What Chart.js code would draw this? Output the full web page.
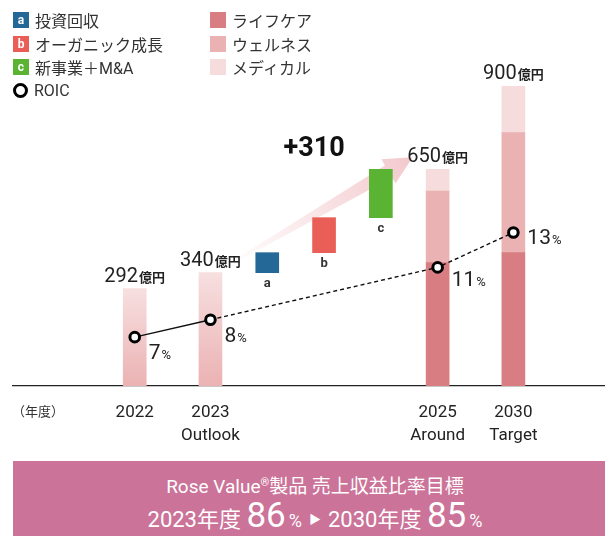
<!DOCTYPE html>
<html lang="ja">
<head>
<meta charset="utf-8">
<script src="https://cdn.jsdelivr.net/npm/chart.js@4/dist/chart.umd.min.js"></script>
<style>
  body { margin: 0; width: 605px; height: 536px; background: #fff; position: relative; overflow: hidden;
         font-family: Roboto, "Noto Sans CJK JP", sans-serif; color: #222; }
  #chart { position: absolute; left: 0; top: 0; }
  .lg { position: absolute; height: 16px; display: flex; align-items: center; font-size: 16px; color: #333;
        font-family: Roboto, "Noto Sans CJK JP", sans-serif; white-space: nowrap; }
  .lg .sw { width: 16px; height: 16px; margin-right: 6px; color: #fff; font-weight: 700; font-size: 12px;
            display: flex; align-items: center; justify-content: center; line-height: 1; }
  .lg .ring { width: 9px; height: 9px; border: 3.5px solid #000; border-radius: 50%; margin-right: 6px; box-sizing: content-box; }
  #banner { position: absolute; left: 13px; top: 461px; width: 592px; height: 75px; background: #cb7398;
            color: #fff; text-align: center; font-family: Roboto, "Noto Sans CJK JP", sans-serif; }
  #banner .l1 { position: absolute; left: 12px; right: 0; top: 9px; font-size: 19px; line-height: 26px; }
  #banner .l1 sup { font-size: 11px; vertical-align: 7px; }
  #banner .l2 { position: absolute; left: 12px; right: 0; top: 36px; font-size: 22px; line-height: 38px; }
  #banner .big { font-size: 35px; }
  #banner .pc { font-size: 18px; margin-left: 3px; }
  #banner .tri { font-size: 12px; vertical-align: 3px; margin: 0 7px; }
</style>
</head>
<body>
<canvas id="chart" width="605" height="461"></canvas>
<div id="legend"></div>
<div id="banner"></div>
<script>
// 売上収益（億円）と ROIC
const years = [['2022'], ['2023', 'Outlook'], ['2025', 'Around'], ['2030', 'Target']];
const salesTotal = [292, 340, 650, 900];
const segNames = ['ライフケア', 'ウェルネス', 'メディカル'];
const lifeCare = [null, null, 370, 400];
const wellness = [null, null, 215, 360];
const medical = [null, null, 65, 140];
const stepKeys = ['a', 'b', 'c'];
const stepNames = ['投資回収', 'オーガニック成長', '新事業＋M&A'];
const stepValues = [60, 105, 145];
const roic = [7, 8, 11, 13];
const shareYears = ['2023', '2030'];
const shareValues = [86, 85];

// layout
const yearSlot = [0, 4, 16, 20];
const stepSlot = [7, 10, 13];
const stepColors = ['#236896', '#ea5e58', '#5ab333'];
const segColors = ['#d87e83', '#eab2b3', '#f6dcdd'];
const FONT = 'Roboto, "Noto Sans CJK JP", sans-serif';
const JP = '"Noto Sans CJK JP", sans-serif';

// legend
const legend = document.getElementById('legend');
function addItem(x, row, swatch, text) {
  const d = document.createElement('div');
  d.className = 'lg';
  d.style.left = x + 'px';
  d.style.top = (12 + row * 23.5) + 'px';
  d.appendChild(swatch);
  const t = document.createElement('span');
  t.textContent = text;
  d.appendChild(t);
  legend.appendChild(d);
}
stepKeys.forEach((k, i) => {
  const s = document.createElement('span');
  s.className = 'sw';
  s.style.background = stepColors[i];
  s.textContent = k;
  addItem(13, i, s, stepNames[i]);
});
const ring = document.createElement('span');
ring.className = 'ring';
addItem(13, 3, ring, 'ROIC');
segNames.forEach((n, i) => {
  const s = document.createElement('span');
  s.className = 'sw';
  s.style.background = segColors[i];
  addItem(210, i, s, n);
});

// banner
document.getElementById('banner').innerHTML =
  '<div class="l1">Rose Value<sup>®</sup>製品 売上収益比率目標</div>' +
  '<div class="l2">' + shareYears[0] + '年度 <span class="big">' + shareValues[0] + '</span><span class="pc">%</span>' +
  '<span class="tri">▶</span>' + shareYears[1] + '年度 <span class="big">' + shareValues[1] + '</span><span class="pc">%</span></div>';

// datasets
const pts = (vals, fn) => vals.map((v, i) => v == null ? null : { x: yearSlot[i], y: fn(i) }).filter(Boolean);

const plainBars = salesTotal.map((v, i) => (lifeCare[i] == null ? { x: yearSlot[i], y: v } : null)).filter(Boolean);
const lcBars = pts(lifeCare, i => [0, lifeCare[i]]);
const wnBars = pts(wellness, i => [lifeCare[i], lifeCare[i] + wellness[i]]);
const mdBars = pts(medical, i => [lifeCare[i] + wellness[i], lifeCare[i] + wellness[i] + medical[i]]);

let run = salesTotal[1];
const stepBars = stepValues.map((v, i) => {
  const b = { x: stepSlot[i], y: [run, run + v] };
  run += v;
  return b;
});

const barBase = { type: 'bar', yAxisID: 'y', grouped: false, barThickness: 23, order: 1, borderWidth: 0 };

function fadeBar(c) {
  const chart = c.chart;
  if (!chart.chartArea || !c.raw) return '#f1c8c9';
  const ys = chart.scales.y;
  const g = chart.ctx.createLinearGradient(0, ys.getPixelForValue(c.raw.y), 0, ys.getPixelForValue(0));
  g.addColorStop(0, '#f7dfe0');
  g.addColorStop(1, '#ebb2b3');
  return g;
}

function text(ctx, s, x, y, font, color, align) {
  ctx.font = font;
  ctx.fillStyle = color;
  ctx.textAlign = align || 'left';
  ctx.textBaseline = 'alphabetic';
  ctx.fillText(s, x, y);
}

// number + small unit, centred or left aligned
function pair(ctx, big, bigFont, small, smallFont, x, base, center) {
  ctx.font = bigFont;
  const w1 = ctx.measureText(big).width;
  ctx.font = smallFont;
  const w2 = ctx.measureText(small).width;
  const left = center ? x - (w1 + w2 + 1) / 2 : x;
  text(ctx, big, left, base, bigFont, '#222');
  text(ctx, small, left + w1 + 1, base, smallFont, '#222');
}

const arrowPlugin = {
  id: 'arrow',
  beforeDatasetsDraw(chart) {
    const { ctx, scales: { x, y } } = chart;
    const tail = [x.getPixelForValue(yearSlot[1]) + 15, y.getPixelForValue(salesTotal[1]) - 6];
    const tip = [x.getPixelForValue(yearSlot[2]) - 25, y.getPixelForValue(salesTotal[2]) - 12];
    const dx = tip[0] - tail[0], dy = tip[1] - tail[1];
    const len = Math.hypot(dx, dy);
    const u = [dx / len, dy / len], n = [-u[1], u[0]];
    const hl = 28, hw = 14, sw = 7;
    const b = [tip[0] - hl * u[0], tip[1] - hl * u[1]];
    const g = ctx.createLinearGradient(tail[0], tail[1], tip[0], tip[1]);
    g.addColorStop(0, 'rgba(244,205,208,0)');
    g.addColorStop(0.75, 'rgba(242,200,204,0.75)');
    g.addColorStop(1, 'rgba(242,198,202,0.95)');
    ctx.save();
    ctx.beginPath();
    ctx.moveTo(tail[0] + 1 * n[0], tail[1] + 1 * n[1]);
    ctx.lineTo(b[0] + sw * n[0], b[1] + sw * n[1]);
    ctx.lineTo(b[0] + hw * n[0], b[1] + hw * n[1]);
    ctx.lineTo(tip[0], tip[1]);
    ctx.lineTo(b[0] - hw * n[0], b[1] - hw * n[1]);
    ctx.lineTo(b[0] - sw * n[0], b[1] - sw * n[1]);
    ctx.lineTo(tail[0] - 1 * n[0], tail[1] - 1 * n[1]);
    ctx.closePath();
    ctx.fillStyle = g;
    ctx.fill();
    ctx.restore();
  }
};

const labelPlugin = {
  id: 'labels',
  afterDraw(chart) {
    const { ctx, scales: { x, y, y2 } } = chart;
    ctx.save();
    // totals above the bars
    salesTotal.forEach((v, i) => {
      pair(ctx, String(v), '400 20px ' + FONT, '億円', '700 13px ' + JP,
           x.getPixelForValue(yearSlot[i]), y.getPixelForValue(v) - 7, true);
    });
    // ROIC values
    const dy = [14, 15, 11, 4];
    roic.forEach((r, i) => {
      pair(ctx, String(r), '400 21px ' + FONT, '%', '400 13px ' + FONT,
           x.getPixelForValue(yearSlot[i]) + 14, y2.getPixelForValue(r) + dy[i] + 7.5, false);
    });
    // step letters under the floating bars
    stepBars.forEach((b, i) => {
      text(ctx, stepKeys[i], x.getPixelForValue(b.x), y.getPixelForValue(b.y[0]) + 14,
           '700 13px ' + FONT, '#333', 'center');
    });
    // total increase
    const inc = stepValues.reduce((a, b) => a + b, 0);
    text(ctx, '+' + inc, x.getPixelForValue(stepSlot[1]) - 10, y.getPixelForValue(720) + 10,
         '700 27px ' + FONT, '#111', 'center');
    // axis unit
    text(ctx, '（年度）', 12, 416, '400 13px ' + JP, '#333', 'left');
    ctx.restore();
  }
};

new Chart(document.getElementById('chart'), {
  data: {
    datasets: [
      {
        type: 'line', label: 'ROIC', yAxisID: 'y2', order: 0,
        data: roic.map((r, i) => ({ x: yearSlot[i], y: r })),
        borderColor: '#111', borderWidth: 1.4,
        segment: { borderDash: c => (c.p0DataIndex >= 1 ? [4, 3] : []) },
        pointRadius: 4.8, pointBorderWidth: 3, pointBackgroundColor: '#fff', pointBorderColor: '#000'
      },
      { ...barBase, label: '売上収益', data: plainBars, backgroundColor: fadeBar },
      { ...barBase, label: segNames[0], data: lcBars, backgroundColor: segColors[0] },
      { ...barBase, label: segNames[1], data: wnBars, backgroundColor: segColors[1] },
      { ...barBase, label: segNames[2], data: mdBars, backgroundColor: segColors[2] },
      { ...barBase, label: '増加要因', data: stepBars, backgroundColor: stepColors }
    ]
  },
  options: {
    responsive: false,
    animation: false,
    layout: { autoPadding: false, padding: { top: 86, left: 13, right: 0, bottom: 0 } },
    plugins: { legend: { display: false }, tooltip: { enabled: false } },
    scales: {
      x: {
        type: 'linear', min: -6.43, max: 24.84, offset: false,
        grid: { display: false, drawTicks: false, offset: false },
        border: { display: true, color: '#222', width: 1.3 },
        afterBuildTicks: s => { s.ticks = yearSlot.map(v => ({ value: v })); },
        afterFit: s => { s.height = 75; s.paddingLeft = 0; s.paddingRight = 0; },
        ticks: {
          autoSkip: false, maxRotation: 0, padding: 15, color: '#222',
          font: { family: FONT, size: 17, lineHeight: 1.35 },
          callback: v => years[yearSlot.indexOf(v)]
        }
      },
      y: { display: false, min: 0, max: 900 },
      y2: { display: false, min: 4.2, max: 21.4 }
    }
  },
  plugins: [arrowPlugin, labelPlugin]
});
</script>
</body>
</html>
